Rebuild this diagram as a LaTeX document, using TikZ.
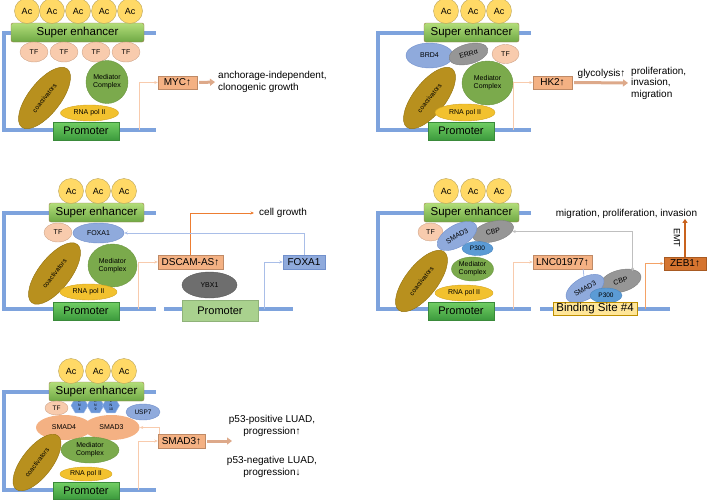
\documentclass[tikz,border=0pt]{standalone}
\usepackage{fontspec}
\setmainfont{Liberation Sans}
\usepackage{tikz}
\usetikzlibrary{shapes, arrows.meta, positioning, calc}

\definecolor{dnablue}{HTML}{7EA3DD}
\definecolor{acfill}{HTML}{FFD966}
\definecolor{acline}{HTML}{B9A35C}
\definecolor{setop}{HTML}{B3DE7A}
\definecolor{sebot}{HTML}{6EA844}
\definecolor{seline}{HTML}{9C7B4B}
\definecolor{promtop}{HTML}{72CF64}
\definecolor{prombot}{HTML}{3C9A3D}
\definecolor{promline}{HTML}{3A8A3A}
\definecolor{tffill}{HTML}{F8CBAD}
\definecolor{tfline}{HTML}{CFA58A}
\definecolor{coactfill}{HTML}{B8901E}
\definecolor{coactline}{HTML}{94730F}
\definecolor{medfill}{HTML}{7BAA4C}
\definecolor{medline}{HTML}{6B9641}
\definecolor{rnafill}{HTML}{F2C12E}
\definecolor{rnaline}{HTML}{D4A520}
\definecolor{bluefill}{HTML}{8FAADC}
\definecolor{blueline}{HTML}{7190CC}
\definecolor{grayfill}{HTML}{969696}
\definecolor{grayline}{HTML}{7F7F7F}
\definecolor{pfill}{HTML}{5B9BD5}
\definecolor{pline}{HTML}{4A86C0}
\definecolor{ybxfill}{HTML}{6E6E6E}
\definecolor{ybxline}{HTML}{595959}
\definecolor{genefill}{HTML}{F4B183}
\definecolor{geneline}{HTML}{BF8A66}
\definecolor{zebfill}{HTML}{D5742F}
\definecolor{zebline}{HTML}{A85A22}
\definecolor{bsfill}{HTML}{FFE699}
\definecolor{bsline}{HTML}{BF9000}
\definecolor{promtwofill}{HTML}{A9D18E}
\definecolor{promtwoline}{HTML}{8FB279}
\definecolor{hexfill}{HTML}{6A96D8}
\definecolor{hexline}{HTML}{9DB9E6}
\definecolor{siglight}{HTML}{F8CBAD}
\definecolor{sigdark}{HTML}{ED7D31}
\definecolor{sigmid}{HTML}{F4A266}
\definecolor{sigblue}{HTML}{A9BEE8}
\definecolor{siggray}{HTML}{BFBFBF}
\definecolor{arrowfill}{HTML}{DDA98A}
\definecolor{emtcol}{HTML}{C9631E}

\begin{document}
\begin{tikzpicture}[x=1pt, y=-1pt]
    \tikzstyle{every node} = [font=\fontsize{10}{12}\selectfont, inner sep=0pt]
    \tikzstyle{dna} = [draw=dnablue, line width=4pt]
    \tikzstyle{ac} = [circle, draw=acline, fill=acfill, minimum size=25pt, font=\fontsize{9}{10}\selectfont]
    \tikzstyle{superenh} = [rectangle, rounded corners=2pt, draw=seline, top color=setop, bottom color=sebot, minimum width=95pt, minimum height=19pt, font=\fontsize{11.5}{12}\selectfont]
    \tikzstyle{promoter} = [rectangle, draw=promline, top color=promtop, bottom color=prombot, minimum width=66pt, minimum height=18pt, font=\fontsize{11}{12}\selectfont]
    \tikzstyle{tf} = [ellipse, draw=tfline, fill=tffill, minimum width=28pt, minimum height=20pt, font=\fontsize{7}{8}\selectfont]
    \tikzstyle{coact} = [ellipse, draw=coactline, fill=coactfill, minimum width=74pt, minimum height=32pt, rotate=52, font=\fontsize{6.5}{7}\selectfont]
    \tikzstyle{mediator} = [ellipse, draw=medline, fill=medfill, align=center, font=\fontsize{7}{8}\selectfont]
    \tikzstyle{rnapol} = [ellipse, draw=rnaline, fill=rnafill, minimum width=58pt, minimum height=16pt, font=\fontsize{7}{8}\selectfont]
    \tikzstyle{blueprot} = [ellipse, draw=blueline, fill=bluefill, font=\fontsize{7}{8}\selectfont]
    \tikzstyle{grayprot} = [ellipse, draw=grayline, fill=grayfill, font=\fontsize{7}{8}\selectfont]
    \tikzstyle{pprot} = [ellipse, draw=pline, fill=pfill, minimum width=31pt, minimum height=14pt, font=\fontsize{6.5}{7}\selectfont]
    \tikzstyle{smadprot} = [ellipse, fill=genefill, minimum width=56pt, minimum height=25pt, font=\fontsize{7}{8}\selectfont]
    \tikzstyle{hexa} = [regular polygon, regular polygon sides=6, draw=hexline, fill=hexfill, minimum size=17pt, align=center, font=\fontsize{3.5}{3.8}\selectfont]
    \tikzstyle{gene} = [rectangle, draw=geneline, fill=genefill, minimum height=14pt]
    \tikzstyle{outtext} = [anchor=west, align=left]
    \tikzstyle{sig} = [draw=siglight, line width=0.8pt, -{Stealth[length=3.5pt, width=3pt]}]
    \tikzstyle{sigdk} = [draw=sigdark, line width=0.8pt, -{Stealth[length=3.5pt, width=3pt]}]
    \tikzstyle{sigmd} = [draw=sigmid, line width=0.8pt, -{Stealth[length=3.5pt, width=3pt]}]
    \tikzstyle{sigbl} = [draw=sigblue, line width=0.8pt, -{Stealth[length=3.5pt, width=3pt]}]
    \tikzstyle{siggr} = [draw=siggray, line width=0.8pt, {Stealth[length=3.5pt, width=3pt]}-{Stealth[length=3.5pt, width=3pt]}]
    \tikzstyle{bigarrow} = [draw=arrowfill, line width=3pt, shorten <=2pt, shorten >=3pt, -{Triangle[length=5pt, width=7pt]}]
    \tikzstyle{emt} = [draw=emtcol, line width=2pt, -{Triangle[length=4pt, width=5pt]}]
    \useasboundingbox (0,0) rectangle (708,501);

    % MYC
    \draw[dna] (156,33) -- (4,33) -- (4,130) -- (156,130);
    \node[promoter] (prom1) at (86,131) {Promoter};
    \node[superenh, minimum width=133pt] (se1) at (77.5,32.5) {Super enhancer};
    \node[ac] (ac11) at (27,11) {Ac};
    \node[ac] (ac12) at (52,11) {Ac};
    \node[ac] (ac13) at (78,11) {Ac};
    \node[ac] (ac14) at (104,11) {Ac};
    \node[ac] (ac15) at (130,11) {Ac};
    \node[tf] (tf11) at (34,52) {TF};
    \node[tf] (tf12) at (64,52) {TF};
    \node[tf] (tf13) at (96,52) {TF};
    \node[tf] (tf14) at (126,52) {TF};
    \node[coact] (coact1) at (44.5,98) {coactivators};
    \node[mediator, minimum width=42pt, minimum height=43pt] (med1) at (107,82) {Mediator\\Complex};
    \node[rnapol] (rna1) at (89.5,113) {RNA pol II};
    \node[gene, minimum width=39pt, minimum height=13pt] (myc) at (177.5,82.5) {MYC↑};
    \node[outtext] (mycout) at (218,82) {anchorage-independent,\\clonogenic growth};
    \coordinate (tss1) at (139,130);
    \draw[sig] (tss1) |- (myc.west);
    \draw[bigarrow] (myc.east) -- (mycout.west);

    % HK2
    \draw[dna] (531,33) -- (378,33) -- (378,130) -- (531,130);
    \node[promoter] (prom2) at (461,131) {Promoter};
    \node[superenh] (se2) at (471.5,32.5) {Super enhancer};
    \node[ac] (ac21) at (446,11) {Ac};
    \node[ac] (ac22) at (473,11) {Ac};
    \node[ac] (ac23) at (499,11) {Ac};
    \node[blueprot, minimum width=47pt, minimum height=25pt] (brd4) at (429.5,55.5) {BRD4};
    \node[grayprot, minimum width=40pt, minimum height=20pt, rotate=15] (erra) at (468.5,54) {ERRα};
    \node[tf, minimum width=27pt, minimum height=19pt] (tf21) at (505.5,54) {TF};
    \node[coact] (coact2) at (429.5,98) {coactivators};
    \node[mediator, minimum width=51pt, minimum height=44pt] (med2) at (487.5,83) {Mediator\\Complex};
    \node[rnapol, minimum width=60pt, minimum height=17pt] (rna2) at (465,112.5) {RNA pol II};
    \node[gene, minimum width=39pt, minimum height=13pt] (hk2) at (552.5,82.5) {HK2↑};
    \node[outtext, font=\fontsize{10}{11.5}\selectfont] (hk2out) at (631,83) {proliferation,\\invasion,\\migration};
    \coordinate (tss2) at (513,130);
    \draw[sig] (tss2) |- (hk2.west);
    \draw[bigarrow] (hk2.east) -- node[above=3pt]{glycolysis↑} (hk2out.west);

    % DSCAM-AS
    \draw[dna] (156,213) -- (4,213) -- (4,309) -- (156,309);
    \draw[dna] (164,309) -- (293,309);
    \node[promoter] (prom3) at (86,311) {Promoter};
    \node[superenh] (se3) at (96.5,212.5) {Super enhancer};
    \node[ac] (ac31) at (71,191) {Ac};
    \node[ac] (ac32) at (98,191) {Ac};
    \node[ac] (ac33) at (124,191) {Ac};
    \node[tf, minimum height=19pt] (tf31) at (58,232.5) {TF};
    \node[blueprot, minimum width=51pt, minimum height=20pt] (foxa1) at (98.5,233) {FOXA1};
    \node[coact] (coact3) at (54.5,273.5) {coactivators};
    \node[mediator, minimum width=49pt, minimum height=43pt] (med3) at (112.5,265.5) {Mediator\\Complex};
    \node[rnapol, minimum width=57pt] (rna3) at (88.5,292) {RNA pol II};
    \node[rectangle, draw=promtwoline, fill=promtwofill, minimum width=76pt, minimum height=21pt, font=\fontsize{11}{12}\selectfont] (prom3b) at (220,310.5) {Promoter};
    \node[ellipse, draw=ybxline, fill=ybxfill, minimum width=55pt, minimum height=26pt, font=\fontsize{7}{8}\selectfont] (ybx1) at (209.5,285) {YBX1};
    \node[gene, minimum width=65pt] (dscam) at (190.5,262) {DSCAM-AS↑};
    \node[gene, draw=blueline, fill=bluefill, minimum width=42pt] (foxbox) at (304,262) {FOXA1};
    \node[outtext] (growth) at (259,213) {cell growth};
    \coordinate (tss3) at (138,309);
    \coordinate (tss3b) at (264,309);
    \draw[sig] (tss3) |- (dscam.west);
    \draw[sigdk, shorten >=5pt] (dscam.north) |- (growth.west);
    \draw[sigbl] (tss3b) |- (foxbox.west);
    \draw[sigbl] (foxbox.north) |- (foxa1.east);

    % LNC01977
    \draw[dna] (531,213) -- (378,213) -- (378,309) -- (531,309);
    \draw[dna] (540,309) -- (670,309);
    \node[promoter] (prom4) at (461,311) {Promoter};
    \node[superenh] (se4) at (471.5,212.5) {Super enhancer};
    \node[ac] (ac41) at (446,191) {Ac};
    \node[ac] (ac42) at (473,191) {Ac};
    \node[ac] (ac43) at (499,191) {Ac};
    \node[tf, minimum width=25pt, minimum height=18pt] (tf41) at (430.5,232) {TF};
    \node[grayprot, minimum width=42pt, minimum height=20pt, rotate=15] (cbp1) at (493,231.5) {CBP};
    \node[blueprot, minimum width=44pt, minimum height=22pt, rotate=30] (smad3a) at (457,236) {SMAD3};
    \node[pprot] (p300a) at (477.5,248.5) {P300};
    \node[coact] (coact4) at (421.5,281) {coactivators};
    \node[mediator, minimum width=42pt, minimum height=24pt] (med4) at (472.5,269) {Mediator\\Complex};
    \node[rnapol] (rna4) at (464,293) {RNA pol II};
    \node[grayprot, minimum width=42pt, minimum height=22pt, rotate=15] (cbp2) at (620.5,281) {CBP};
    \node[blueprot, minimum width=42pt, minimum height=22pt, rotate=30] (smad3b) at (585,288.5) {SMAD3};
    \node[pprot, minimum width=32pt, minimum height=15pt] (p300b) at (606,295.5) {P300};
    \node[rectangle, draw=bsline, fill=bsfill, minimum width=84pt, minimum height=13pt, font=\fontsize{11.5}{12}\selectfont] (bs4) at (595,309) {Binding Site \#4};
    \node[gene, minimum width=59pt] (lnc) at (562.5,262) {LNC01977↑};
    \node[gene, draw=zebline, fill=zebfill, minimum width=42pt, minimum height=13pt] (zeb1) at (685,263.5) {ZEB1↑};
    \node (migr) at (626.5,214) {migration, proliferation, invasion};
    \coordinate (tss4) at (513,309);
    \coordinate (tss4b) at (645,309);
    \draw[sig] (tss4) |- (lnc.west);
    \draw[sigbl, -] ([xshift=-9pt]lnc.south east) -- (smad3b);
    \draw[siggr] (cbp1) -| ([xshift=15pt, yshift=-1pt]cbp2.north);
    \draw[sigmd] (tss4b) |- (zeb1.west);
    \draw[emt] (zeb1.north) -- (zeb1.north |- migr.south) node[midway, xshift=-8pt, rotate=-90, font=\fontsize{9}{10}\selectfont]{EMT};

    % SMAD3
    \draw[dna] (156,392) -- (4,392) -- (4,490) -- (156,490);
    \node[promoter, minimum height=17pt] (prom5) at (86,490.5) {Promoter};
    \node[hexa] (en4) at (79.5,405.5) {E\\N\\4};
    \node[hexa] (en9) at (95.5,405.5) {E\\N\\9};
    \node[hexa] (en10) at (111,405.5) {E\\N\\10};
    \node[superenh] (se5) at (96.5,391.5) {Super enhancer};
    \node[ac] (ac51) at (71,371) {Ac};
    \node[ac] (ac52) at (98,371) {Ac};
    \node[ac] (ac53) at (124,371) {Ac};
    \node[tf, minimum width=23pt, minimum height=14pt, font=\fontsize{6.5}{7}\selectfont] (tf51) at (56.5,408) {TF};
    \node[smadprot] (smad4) at (64,427.5) {SMAD4};
    \node[smadprot] (smad3c) at (111.5,427.5) {SMAD3};
    \node[blueprot, minimum width=34pt, minimum height=16pt, font=\fontsize{6.5}{7}\selectfont] (usp7) at (143,412) {USP7};
    \node[coact, minimum width=68pt, minimum height=30pt] (coact5) at (37,462.5) {coactivators};
    \node[mediator, minimum width=58pt, minimum height=26pt] (med5) at (90,450) {Mediator\\Complex};
    \node[rnapol, minimum width=52pt, minimum height=14pt] (rna5) at (86,474) {RNA pol II};
    \node[gene, minimum width=47pt] (smad3box) at (181.5,441) {SMAD3↑};
    \node[align=center] (posout) at (272,426) {p53-positive LUAD,\\progression↑};
    \node[align=center] (negout) at (272,466.5) {p53-negative LUAD,\\progression↓};
    \coordinate (tss5) at (138,490);
    \coordinate (smout) at (235,441);
    \draw[sig] (tss5) |- (smad3box.west);
    \draw[sig] ([xshift=2pt]smad3box.north west) |- (smad3c.east);
    \draw[bigarrow] (smad3box.east) -- (smout);
\end{tikzpicture}
\end{document}
